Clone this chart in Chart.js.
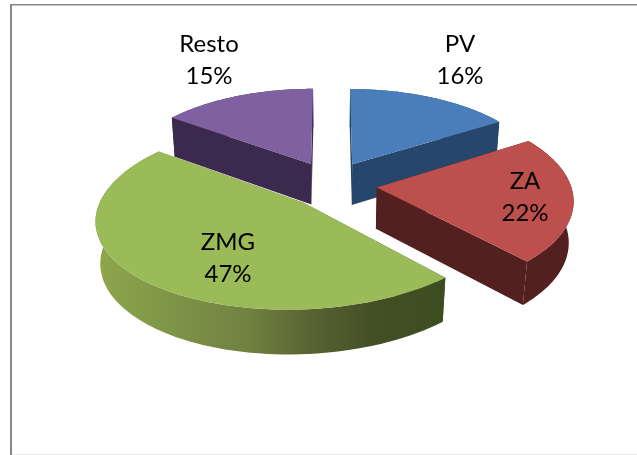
<!DOCTYPE html>
<html>
<head>
<meta charset="utf-8">
<script src="https://cdn.jsdelivr.net/npm/chart.js@4/dist/chart.umd.min.js"></script>
<style>html,body{margin:0;padding:0;background:#fff}#w{position:relative;width:637px;height:455px}</style>
</head>
<body>
<div id="w"><canvas id="c" width="637" height="455"></canvas></div>
<script>
const categories = ['PV', 'ZA', 'ZMG', 'Resto'];
const shares = [16, 22, 47, 15];

const topColors = ['#4a7ebb', '#bd4f4c', '#9bbb59', '#7f60a0'];
const wallColors = ['#27466b', '#52201e', null, '#3b2a4d'];
const labelAnchors = [[460, 52], [525, 189], [228, 250], [209, 52]];
const drawOrder = [3, 0, 1, 2];

const view = {cx: 331, cy: 185, tilt: 0.459, persp: 0.0006, depth: 42, depthPersp: 0.02, explode: 45};
const nudges = [[0, -3], [1, 0], [3, 2], [0, -3]];
const xScales = [0.955, 0.97, 1, 0.95];
const yScales = [0.96, 1, 0.98, 0.96];
const shears = [0, 0, 0.06, 0];

function project(X, Y, low, i, oy) {
  const w = 1 - view.persp * Y + (low ? view.depthPersp : 0);
  return [
    view.cx + nudges[i][0] + X / w - shears[i] * (Y - oy),
    view.cy + nudges[i][1] + (Y * view.tilt + (low ? view.depth : 0)) / w
  ];
}
function outline(el, i, low) {
  const mid = (el.startAngle + el.endAngle) / 2;
  const ox = Math.cos(mid) * view.explode, oy = Math.sin(mid) * view.explode;
  const apex = project(ox, oy, low, i, oy);
  const pts = [];
  const n = 80;
  for (let k = 0; k <= n; k++) {
    const a = el.startAngle + (el.endAngle - el.startAngle) * k / n;
    const p = project(ox + Math.cos(a) * el.outerRadius, oy + Math.sin(a) * el.outerRadius, low, i, oy);
    pts.push([apex[0] + (p[0] - apex[0]) * xScales[i], apex[1] + (p[1] - apex[1]) * yScales[i]]);
  }
  return {apex: apex, arc: pts};
}
function poly(ctx, pts, fill) {
  ctx.beginPath();
  pts.forEach((p, k) => k ? ctx.lineTo(p[0], p[1]) : ctx.moveTo(p[0], p[1]));
  ctx.closePath();
  ctx.fillStyle = fill;
  ctx.fill();
}

const pie3d = {
  id: 'pie3d',
  beforeDatasetsDraw(chart) {
    const ctx = chart.ctx;
    ctx.save();
    ctx.fillStyle = '#ffffff';
    ctx.fillRect(0, 0, 637, 455);
    ctx.fillStyle = '#868686';
    ctx.fillRect(10, 4, 627, 1.5);
    ctx.fillRect(10, 4, 2, 451);
    ctx.fillStyle = '#e8e8e8';
    ctx.fillRect(12, 454, 625, 1);

    const els = chart.getDatasetMeta(0).data;
    drawOrder.forEach(i => {
      const el = els[i];
      const t = outline(el, i, false), b = outline(el, i, true);
      let wall = wallColors[i];
      if (!wall) {
        const g = ctx.createLinearGradient(97, 0, 442, 0);
        g.addColorStop(0, '#8fa64c');
        g.addColorStop(0.2, '#7f9648');
        g.addColorStop(0.45, '#6f8040');
        g.addColorStop(0.62, '#586333');
        g.addColorStop(0.8, '#434f25');
        g.addColorStop(1, '#3e4d21');
        wall = g;
      }
      poly(ctx, [t.apex, t.arc[0], b.arc[0], b.apex], wall);
      poly(ctx, [t.apex, t.arc[t.arc.length - 1], b.arc[b.arc.length - 1], b.apex], wall);
      poly(ctx, t.arc.concat(b.arc.slice().reverse()), wall);
      poly(ctx, [t.apex].concat(t.arc), topColors[i]);
    });

    ctx.fillStyle = '#000';
    ctx.textAlign = 'center';
    ctx.textBaseline = 'alphabetic';
    ctx.font = '24px Lato, "Open Sans", sans-serif';
    categories.forEach((name, i) => {
      ctx.fillText(name, labelAnchors[i][0], labelAnchors[i][1]);
      ctx.fillText(shares[i] + '%', labelAnchors[i][0], labelAnchors[i][1] + 32);
    });
    ctx.restore();
    return false;
  }
};

new Chart(document.getElementById('c'), {
  type: 'pie',
  data: {labels: categories, datasets: [{data: shares, backgroundColor: topColors, borderWidth: 0}]},
  options: {
    responsive: false,
    animation: false,
    radius: 200,
    rotation: 0,
    plugins: {legend: {display: false}, tooltip: {enabled: false}}
  },
  plugins: [pie3d]
});
</script>
</body>
</html>
